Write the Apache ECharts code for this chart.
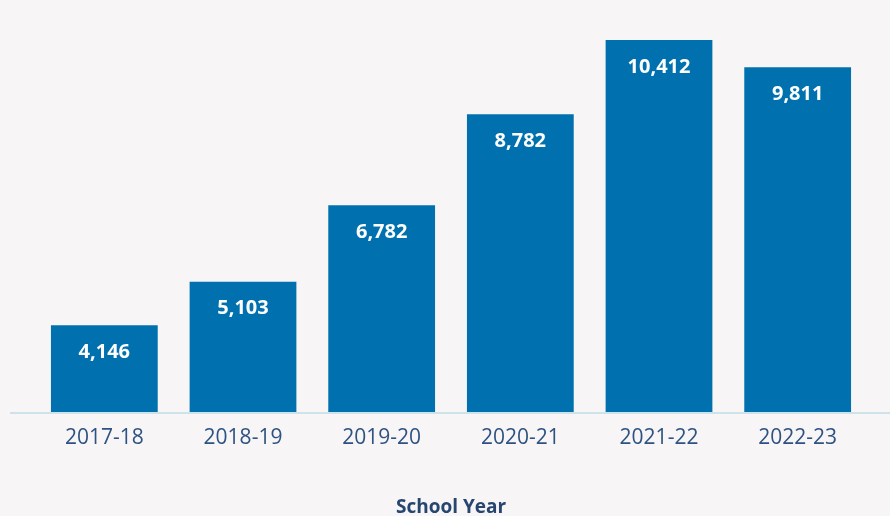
<!DOCTYPE html>
<html><head><meta charset="utf-8">
<script src="https://cdn.jsdelivr.net/npm/echarts@6/dist/echarts.min.js"></script>
<style>html,body{margin:0;padding:0;background:#f7f5f6;}#c{width:890px;height:516px;}</style>
</head><body><div id="c"></div>
<script>
const categories = ['2017-18','2018-19','2019-20','2020-21','2021-22','2022-23'];
const enrollment = [4146, 5103, 6782, 8782, 10412, 9811];
const xAxisTitle = 'School Year';

const chart = echarts.init(document.getElementById('c'), null, {renderer: 'canvas'});
chart.setOption({
  backgroundColor: '#f7f5f6',
  animation: false,
  grid: {left: 35, width: 832, top: 0, bottom: 104, containLabel: false, outerBoundsMode: 'none'},
  xAxis: {
    type: 'category',
    data: categories,
    axisLine: {show: false},
    axisTick: {show: false},
    axisLabel: {color: '#2e5382', fontFamily: 'Open Sans', fontSize: 21, margin: 16},
    name: xAxisTitle,
    nameLocation: 'middle',
    nameGap: 86,
    nameTextStyle: {color: '#26466f', fontFamily: 'Open Sans', fontWeight: 'bold', fontSize: 19}
  },
  yAxis: {
    type: 'value',
    min: 2240, max: 11290,
    show: false,
    splitLine: {show: false}
  },
  graphic: [{
    type: 'line', silent: true, z: 10,
    shape: {x1: 10, y1: 413, x2: 890, y2: 413},
    style: {stroke: '#cde2ea', lineWidth: 2}
  }],
  series: [{
    type: 'bar',
    data: enrollment,
    barCategoryGap: '23%',
    itemStyle: {color: '#0071ae'},
    label: {
      show: true, position: 'insideTop', distance: 17,
      color: '#ffffff', fontFamily: 'Open Sans', fontWeight: 'bold', fontSize: 20,
      formatter: p => p.value.toLocaleString('en-US')
    }
  }]
});
</script></body></html>
